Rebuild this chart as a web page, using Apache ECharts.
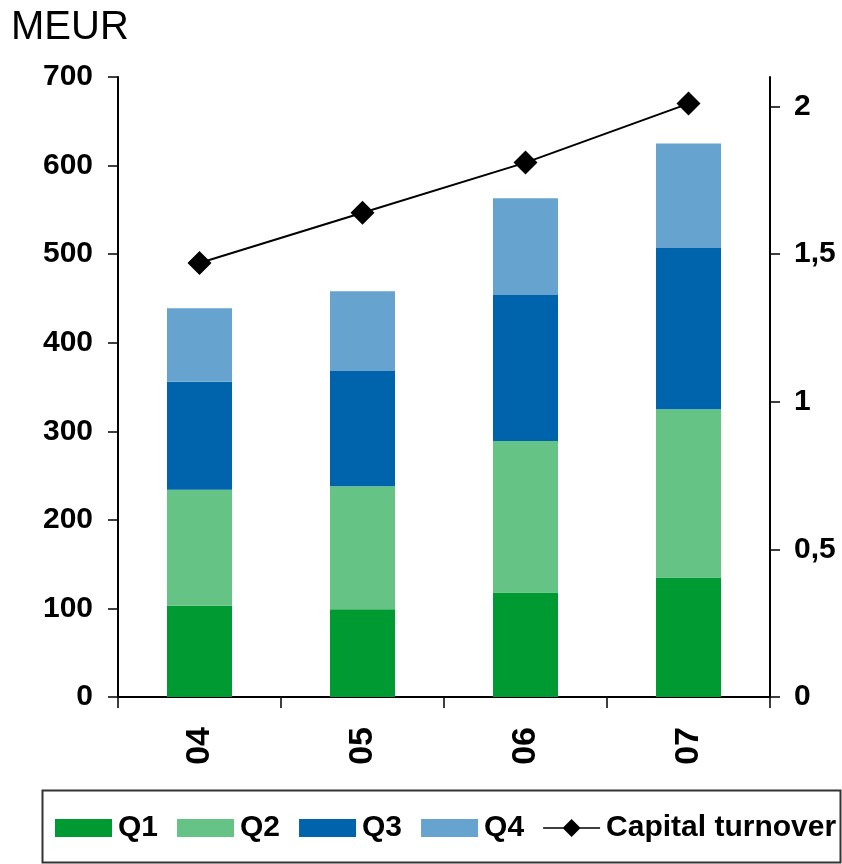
<!DOCTYPE html>
<html>
<head>
<meta charset="utf-8">
<title>MEUR by quarter and capital turnover</title>
<script src="https://cdn.jsdelivr.net/npm/echarts@6/dist/echarts.min.js"></script>
<style>
  html, body { margin: 0; padding: 0; background: #ffffff; }
  #chart { width: 842px; height: 864px; }
</style>
</head>
<body>
<div id="chart"></div>
<script>
// Years on the category axis
const years = ['04', '05', '06', '07'];

// Quarterly amounts, MEUR (stacked)
const q1 = [103, 99, 118, 135];
const q2 = [131, 139, 171, 190];
const q3 = [122, 130, 165, 182];
const q4 = [83, 90, 109, 118];

// Capital turnover (right axis)
const capitalTurnover = [1.47, 1.64, 1.81, 2.01];

// Axis tick values
const leftTicks = [0, 100, 200, 300, 400, 500, 600, 700];
const rightTicks = [0, 0.5, 1, 1.5, 2];

const FONT = "'Liberation Sans', Arial, sans-serif";
const colors = {
  q1: '#009a33',
  q2: '#66c386',
  q3: '#0064ac',
  q4: '#66a3ce'
};

// Legend icon for the line series: thin line with a diamond in the middle
const lineDiamondIcon = 'path://M0,8.2 H57 V9.8 H0 Z M28.5,0 L37.5,9 L28.5,18 L19.5,9 Z';

const chart = echarts.init(document.getElementById('chart'), null, { renderer: 'canvas' });

const barSeries = (name, data, color) => ({
  name: name,
  type: 'bar',
  stack: 'total',
  data: data,
  barWidth: 65,
  itemStyle: { color: color },
  emphasis: { disabled: true }
});

chart.setOption({
  animation: false,
  textStyle: { fontFamily: FONT, color: '#000' },
  title: {
    text: 'MEUR',
    left: 6,
    top: 3,
    textStyle: { fontFamily: FONT, fontSize: 40, fontWeight: 'normal', color: '#000' }
  },
  graphic: [{
    type: 'rect',
    shape: { x: 42.5, y: 790.5, width: 798, height: 72 },
    style: { fill: 'none', stroke: '#333', lineWidth: 2 },
    silent: true
  }],
  legend: {
    left: 55,
    top: 813,
    itemWidth: 57,
    itemHeight: 18,
    itemGap: 19,
    padding: 0,
    textStyle: { fontFamily: FONT, fontSize: 30, fontWeight: 'bold', color: '#000', padding: [0, 0, 0, 1] },
    data: [
      { name: 'Q1', icon: 'rect' },
      { name: 'Q2', icon: 'rect' },
      { name: 'Q3', icon: 'rect' },
      { name: 'Q4', icon: 'rect' },
      { name: 'Capital turnover', icon: lineDiamondIcon, itemStyle: { color: '#000', borderWidth: 0 } }
    ]
  },
  grid: {
    left: 118,
    right: 72,
    top: 77,
    bottom: 167,
    containLabel: false
  },
  xAxis: {
    type: 'category',
    data: years,
    boundaryGap: true,
    axisLine: { lineStyle: { color: '#000', width: 2 } },
    axisTick: { show: true, length: 11, alignWithLabel: false, lineStyle: { color: '#000', width: 1.5 } },
    axisLabel: {
      rotate: 90,
      margin: 30,
      fontFamily: FONT,
      fontSize: 34,
      fontWeight: 'bold',
      color: '#000'
    },
    splitLine: { show: false }
  },
  yAxis: [
    {
      type: 'value',
      min: 0,
      max: 700,
      interval: 100,
      axisLine: { show: true, lineStyle: { color: '#000', width: 2 } },
      axisTick: { show: true, length: 10, lineStyle: { color: '#000', width: 1.5 }, customValues: leftTicks },
      axisLabel: {
        margin: 25,
        fontFamily: FONT,
        fontSize: 30,
        fontWeight: 'bold',
        color: '#000',
        customValues: leftTicks
      },
      splitLine: { show: false }
    },
    {
      type: 'value',
      min: 0,
      max: 2.1,
      interval: 0.5,
      position: 'right',
      axisLine: { show: true, lineStyle: { color: '#000', width: 2 } },
      axisTick: { show: true, length: 10, lineStyle: { color: '#000', width: 1.5 }, customValues: rightTicks },
      axisLabel: {
        margin: 24,
        fontFamily: FONT,
        fontSize: 30,
        fontWeight: 'bold',
        color: '#000',
        customValues: rightTicks,
        formatter: v => String(v).replace('.', ',')
      },
      splitLine: { show: false }
    }
  ],
  series: [
    barSeries('Q1', q1, colors.q1),
    barSeries('Q2', q2, colors.q2),
    barSeries('Q3', q3, colors.q3),
    barSeries('Q4', q4, colors.q4),
    {
      name: 'Capital turnover',
      type: 'line',
      yAxisIndex: 1,
      data: capitalTurnover,
      symbol: 'diamond',
      symbolSize: 24,
      z: 5,
      lineStyle: { color: '#000', width: 2 },
      itemStyle: { color: '#000' },
      emphasis: { disabled: true }
    }
  ]
});
</script>
</body>
</html>
